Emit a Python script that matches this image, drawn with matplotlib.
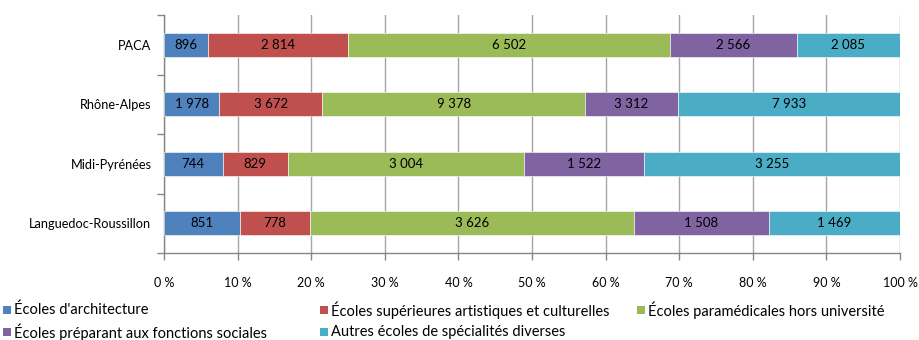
import matplotlib
matplotlib.use("Agg")
import matplotlib.pyplot as plt
from matplotlib.patches import Rectangle
import numpy as np

plt.rcParams['font.family'] = ['Lato', 'DejaVu Sans']

regions = ["PACA", "Rhône-Alpes", "Midi-Pyrénées", "Languedoc-Roussillon"]
series = [
    "Écoles d'architecture",
    "Écoles supérieures artistiques et culturelles",
    "Écoles paramédicales hors université",
    "Écoles préparant aux fonctions sociales",
    "Autres écoles de spécialités diverses",
]
architecture = [896, 1978, 744, 851]
artistiques = [2814, 3672, 829, 778]
paramedicales = [6502, 9378, 3004, 3626]
sociales = [2566, 3312, 1522, 1508]
autres = [2085, 7933, 3255, 1469]
colors = ["#4F81BD", "#C0504D", "#9BBB59", "#8064A2", "#4BACC6"]
xticklabels = [f"{p} %" for p in range(0, 101, 10)]

values = np.array([architecture, artistiques, paramedicales, sociales, autres], dtype=float)
totals = values.sum(axis=0)
shares = values / totals * 100

fig = plt.figure(figsize=(9.19, 3.40), dpi=100)
ax = fig.add_axes([164 / 919, 1 - 253 / 340, (900 - 164) / 919, (253 - 15) / 340])

y = np.arange(len(regions))
left = np.zeros(len(regions))
for i in range(len(series)):
    ax.barh(y, shares[i], left=left, height=0.4, color=colors[i],
            edgecolor="white", linewidth=0.4, zorder=3)
    for j in range(len(regions)):
        txt = f"{int(values[i, j]):,}".replace(",", " ")
        ax.text(left[j] + shares[i, j] / 2, y[j], txt, ha="center", va="center",
                fontsize=9.5, color="black", zorder=4)
    left += shares[i]

ax.set_xlim(0, 100)
ax.set_ylim(len(regions) - 0.5, -0.5)
ax.set_xticks(np.arange(0, 101, 10))
ax.set_xticklabels(xticklabels, fontsize=9)
ax.set_yticks(y)
ax.set_yticklabels(regions, fontsize=9.2)
ax.set_yticks(np.arange(-0.5, len(regions), 1), minor=True)
ax.tick_params(axis="y", which="major", length=0, pad=9)
ax.tick_params(axis="y", which="minor", length=5, color="#868686", width=1)
ax.tick_params(axis="x", length=5, color="#868686", width=1, pad=12)
ax.grid(axis="x", color="#a6a6a6", linewidth=1, zorder=0)
for side in ["top", "right"]:
    ax.spines[side].set_visible(False)
for side in ["left", "bottom"]:
    ax.spines[side].set_color("#868686")
    ax.spines[side].set_linewidth(1)

# Legend laid out in two rows
legend_pos = [(3, 310), (320, 310), (637, 310), (3, 332), (320, 332)]
for (px, py), name, c in zip(legend_pos, series, colors):
    fig.patches.append(Rectangle((px / 919, 1 - (py + 4) / 340), 8 / 919, 8 / 340,
                                 transform=fig.transFigure, facecolor=c, edgecolor="none"))
    fig.text((px + 11) / 919, 1 - py / 340, name, ha="left", va="center", fontsize=10.5)

fig.savefig("out.png", dpi=100)
